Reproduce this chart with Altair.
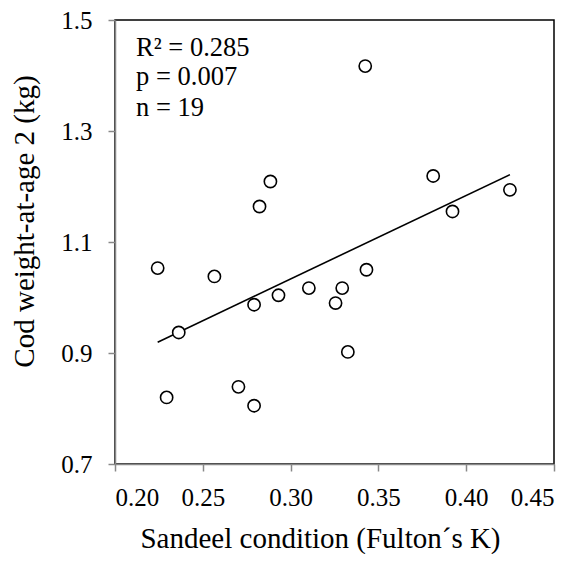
import altair as alt
import pandas as pd

# Sandeel condition (Fulton's K)
sandeel_k = [0.2243, 0.2294, 0.2363, 0.2566, 0.2703, 0.2792, 0.2792, 0.2823, 0.2885, 0.2931,
             0.3104, 0.3256, 0.3294, 0.3326, 0.3425, 0.3432, 0.3812, 0.3922, 0.4249]
# Cod weight-at-age 2 (kg)
cod_weight = [1.053, 0.820, 0.937, 1.038, 0.839, 0.987, 0.805, 1.164, 1.209, 1.004,
              1.017, 0.990, 1.017, 0.902, 1.417, 1.050, 1.219, 1.155, 1.194]

stat_labels = ["R\u00b2 = 0.285", "p = 0.007", "n = 19"]
stat_x = [0.212, 0.212, 0.212]
stat_y = [1.435, 1.383, 1.327]

x_ticks = [0.20, 0.25, 0.30, 0.35, 0.40, 0.45]
y_ticks = [0.7, 0.9, 1.1, 1.3, 1.5]

df = pd.DataFrame({"x": sandeel_k, "y": cod_weight})
stats = pd.DataFrame({"label": stat_labels, "x": stat_x, "y": stat_y})

FONT = "Liberation Serif"

xscale = alt.Scale(domain=[0.20, 0.45], nice=False, zero=False)
yscale = alt.Scale(domain=[0.7, 1.5], nice=False, zero=False)

xaxis = alt.Axis(values=x_ticks, format=".2f", grid=False, title="Sandeel condition (Fulton\u00b4s K)",
                 domainColor="#888888", domainWidth=1.5, tickColor="#888888", tickWidth=1.5, tickSize=7,
                 labelFont=FONT, labelFontSize=25, labelColor="black", labelPadding=14,
                 titleFont=FONT, titleFontSize=29, titleFontWeight="normal", titleColor="black",
                 titleX=205, titleY=83, titleBaseline="alphabetic")
yaxis = alt.Axis(values=y_ticks, format=".1f", grid=False, title="Cod weight-at-age 2 (kg)",
                 domainColor="#888888", domainWidth=1.5, tickColor="#888888", tickWidth=1.5, tickSize=7,
                 labelFont=FONT, labelFontSize=25, labelColor="black", labelPadding=16,
                 titleFont=FONT, titleFontSize=29, titleFontWeight="normal", titleColor="black",
                 titleX=-82, titleY=201, titleBaseline="alphabetic", titleAngle=270)

base = alt.Chart(df)

points = base.mark_point(shape="circle", size=150, filled=False, color="black",
                         fill="white", fillOpacity=1, strokeWidth=1.6, opacity=1).encode(
    x=alt.X("x:Q", scale=xscale, axis=xaxis),
    y=alt.Y("y:Q", scale=yscale, axis=yaxis),
)

line = base.transform_regression("x", "y").mark_line(color="black", strokeWidth=1.6).encode(
    x=alt.X("x:Q", scale=xscale),
    y=alt.Y("y:Q", scale=yscale),
)

text = alt.Chart(stats).mark_text(font=FONT, fontSize=26.5, align="left", baseline="alphabetic",
                                  color="black").encode(
    x=alt.X("x:Q", scale=xscale),
    y=alt.Y("y:Q", scale=yscale),
    text="label:N",
)

chart = alt.layer(line, points, text).properties(
    width=439, height=444,
    autosize=alt.AutoSizeParams(type="none"),
    padding={"left": 107, "top": 12, "right": 15, "bottom": 90},
    background="white",
).configure_view(stroke="black", strokeWidth=1.5)

chart.save("out.html", embed_options={"renderer": "svg", "actions": False})
